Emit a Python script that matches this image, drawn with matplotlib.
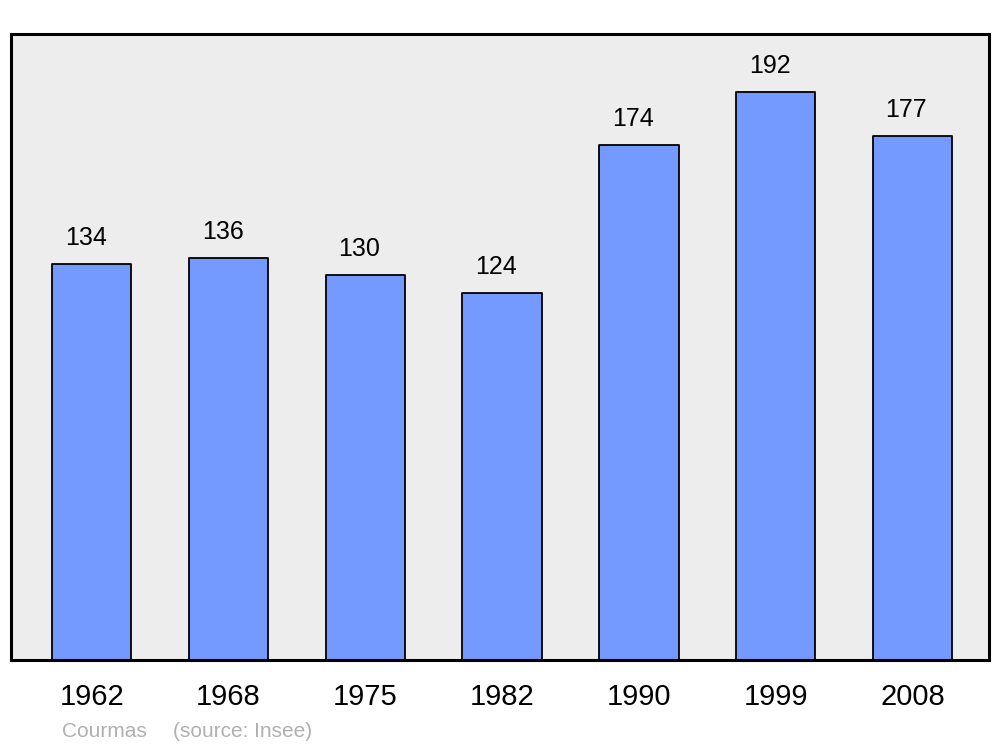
import matplotlib.pyplot as plt

years = ["1962", "1968", "1975", "1982", "1990", "1999", "2008"]
population = [134, 136, 130, 124, 174, 192, 177]

plt.rcParams['font.family'] = ['Liberation Sans', 'DejaVu Sans']

fig = plt.figure(figsize=(10, 7.47), dpi=100)
ax = fig.add_axes([0.011, 0.1165, 0.978, 0.838])
ax.set_facecolor('#ededed')

x = list(range(len(years)))
bars = ax.bar(x, population, width=0.58, color='#7499ff', edgecolor='black',
              linewidth=1.3, joinstyle='round')

for xi, v in zip(x, population):
    ax.annotate(str(v), (xi, v), xytext=(-4.3, 13.7), textcoords='offset points',
                ha='center', va='baseline', fontsize=18)

ax.set_xlim(-0.59, 6.56)
ax.set_ylim(0, 211.6)
ax.set_xticks(x)
ax.set_xticklabels(years, fontsize=21)
ax.tick_params(axis='x', length=0, pad=16.5)
ax.set_yticks([])
for s in ax.spines.values():
    s.set_linewidth(2.2)
    s.set_joinstyle('round')

fig.text(0.0617, 0.0138, "Courmas", fontsize=15, color='#b0b0b0')
fig.text(0.1727, 0.0138, "(source: Insee)", fontsize=15, color='#b0b0b0')

fig.savefig('out.png', dpi=100)
